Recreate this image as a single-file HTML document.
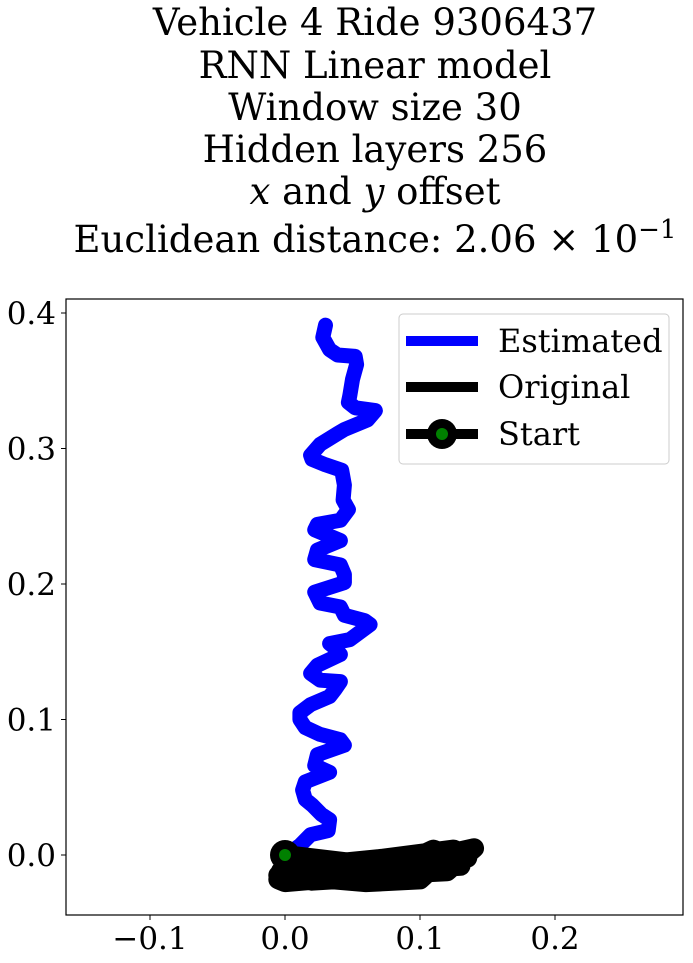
<!DOCTYPE html>
<html><head><meta charset="utf-8"><style>
html,body{margin:0;padding:0;background:#fff;}
svg{display:block;font-family:"DejaVu Serif","Liberation Serif",serif;}
</style></head><body>
<svg id="chart" width="693" height="963" viewBox="0 0 693 963">
<g font-size="37" text-anchor="middle" fill="#000">
<text x="375" y="35">Vehicle 4 Ride 9306437</text>
<text x="375" y="78">RNN Linear model</text>
<text x="375" y="120">Window size 30</text>
<text x="375" y="162">Hidden layers 256</text>
<text x="375" y="204"><tspan font-style="italic">x</tspan> and <tspan font-style="italic">y</tspan> offset</text>
<text x="375" y="252">Euclidean distance: 2.06 × 10<tspan dy="-14" font-size="26">−1</tspan></text>
</g>
<g id="plot"></g>
<rect x="66" y="299" width="617" height="616" fill="none" stroke="#000" stroke-width="1.2"/>
<g id="xticks" font-size="31" text-anchor="middle"></g>
<g id="yticks" font-size="31" text-anchor="end"></g>
<g>
<rect x="399" y="314" width="270" height="150" rx="4" fill="#fff" fill-opacity="0.8" stroke="#ccc"/>
<line x1="406" y1="341" x2="478" y2="341" stroke="#0000ff" stroke-width="10"/>
<text x="498" y="352" font-size="32">Estimated</text>
<line x1="406" y1="387" x2="478" y2="387" stroke="#000" stroke-width="10"/>
<text x="498" y="398" font-size="32">Original</text>
<line x1="406" y1="434" x2="478" y2="434" stroke="#000" stroke-width="10"/>
<circle cx="442" cy="434" r="15" fill="#000"/><circle cx="442" cy="434" r="6" fill="green"/>
<text x="498" y="445" font-size="32">Start</text>
</g>
</svg>
<script>
const estX=[0.030,0.028,0.033,0.039,0.052,0.053,0.050,0.048,0.047,0.052,0.067,0.061,0.044,0.039,0.026,0.019,0.020,0.030,0.042,0.044,0.043,0.047,0.041,0.024,0.022,0.041,0.024,0.022,0.041,0.044,0.044,0.022,0.026,0.041,0.044,0.059,0.063,0.048,0.033,0.037,0.041,0.024,0.019,0.026,0.041,0.037,0.033,0.019,0.011,0.011,0.015,0.026,0.041,0.044,0.024,0.022,0.033,0.015,0.013,0.015,0.020,0.027,0.033,0.032,0.019,0.011,0.004,0.0];
const estY=[0.391,0.382,0.373,0.369,0.368,0.362,0.351,0.339,0.334,0.330,0.328,0.321,0.314,0.311,0.303,0.295,0.292,0.288,0.284,0.273,0.262,0.255,0.247,0.244,0.240,0.232,0.225,0.218,0.214,0.207,0.201,0.194,0.186,0.183,0.177,0.173,0.170,0.159,0.156,0.153,0.148,0.140,0.134,0.129,0.128,0.122,0.117,0.111,0.105,0.100,0.094,0.089,0.085,0.081,0.074,0.066,0.061,0.054,0.048,0.041,0.037,0.030,0.026,0.018,0.015,0.007,0.002,0.0];
const origX=[0.0,0.05,0.1,0.14,0.12,0.06,0.0,-0.005,0.03,0.08,0.11,0.13,0.09,0.05,-0.005,0.04,0.08,0.12,0.1,0.06,0.0,0.03,0.11,0.13,0.05,0.0,0.07,0.125,0.135,0.1,0.02,-0.003];
const origY=[0.0,-0.006,-0.004,0.005,-0.012,-0.015,-0.02,-0.018,-0.012,-0.01,0.004,-0.004,-0.016,-0.018,-0.015,-0.008,-0.006,0.0,-0.018,-0.02,-0.015,-0.01,0.002,-0.008,-0.013,-0.01,-0.003,0.004,-0.002,-0.014,-0.019,-0.012];
const xTicks=[-0.1,0.0,0.1,0.2];
const yTicks=[0.0,0.1,0.2,0.3,0.4];
const sx=v=>285+v*1350, sy=v=>855-v*1355;
const NS='http://www.w3.org/2000/svg';
const plot=document.getElementById('plot');
function path(xs,ys,color,w,name){
  const p=document.createElementNS(NS,'path');
  p.setAttribute('d',xs.map((x,i)=>(i?'L':'M')+sx(x).toFixed(1)+' '+sy(ys[i]).toFixed(1)).join(''));
  p.setAttribute('fill','none');p.setAttribute('stroke',color);p.setAttribute('stroke-width',w);
  p.setAttribute('stroke-linejoin','round');p.setAttribute('stroke-linecap','round');
  
  
  plot.appendChild(p);
}
path(estX,estY,'#0000ff',15,'estimated-line');
path(origX,origY,'#000',20,'original-line');
const c1=document.createElementNS(NS,'circle');c1.setAttribute('cx',sx(0));c1.setAttribute('cy',sy(0));c1.setAttribute('r',15);c1.setAttribute('fill','#000');


plot.appendChild(c1);
const c2=document.createElementNS(NS,'circle');c2.setAttribute('cx',sx(0));c2.setAttribute('cy',sy(0));c2.setAttribute('r',6);c2.setAttribute('fill','green');


plot.appendChild(c2);
const xg=document.getElementById('xticks'),yg=document.getElementById('yticks');
xTicks.forEach(v=>{
  const l=document.createElementNS(NS,'line');l.setAttribute('x1',sx(v));l.setAttribute('x2',sx(v));l.setAttribute('y1',915);l.setAttribute('y2',920);l.setAttribute('stroke','#000');
  
  
  xg.appendChild(l);
  const t=document.createElementNS(NS,'text');t.setAttribute('x',sx(v));t.setAttribute('y',949);t.textContent=(v<0?'−':'')+Math.abs(v).toFixed(1);
  
  
  xg.appendChild(t);
});
yTicks.forEach(v=>{
  const l=document.createElementNS(NS,'line');l.setAttribute('x1',61);l.setAttribute('x2',66);l.setAttribute('y1',sy(v));l.setAttribute('y2',sy(v));l.setAttribute('stroke','#000');
  
  
  yg.appendChild(l);
  const t=document.createElementNS(NS,'text');t.setAttribute('x',56);t.setAttribute('y',sy(v)+11);t.textContent=v.toFixed(1);
  
  
  yg.appendChild(t);
});
</script>
</body></html>
